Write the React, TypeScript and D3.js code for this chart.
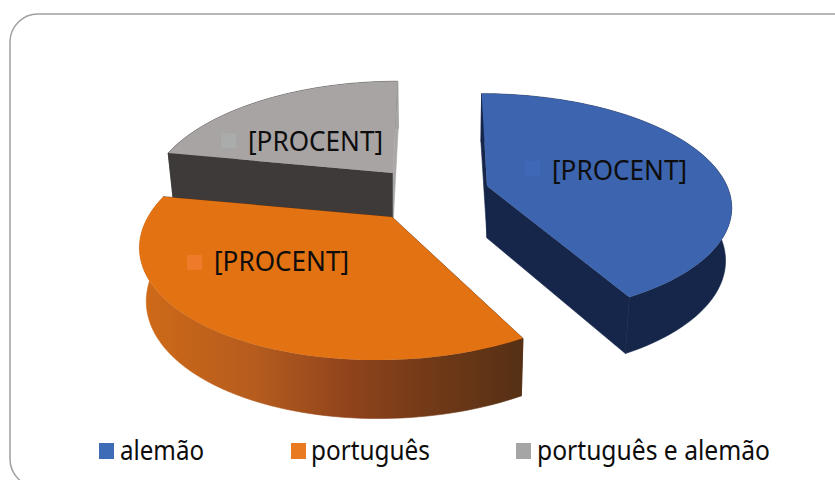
import React from "react";
import * as d3 from "d3";

const categories = ["alemão", "português", "português e alemão"];
const shares = [42, 36, 22];
const dataLabel = "[PROCENT]";
const topColors = ["#3d64ae", "#e37212", "#a7a4a3"];
const outerWallColors = ["#15264a", "url(#orangeWall)", "#3e3a3a"];
const startWallColors = ["#15264a", "#5a3014", "#3e3a3a"];
const endWallColors = ["#15264a", "#5a3014", "#a9a7a6"];
const legendColors = ["#3f6cb6", "#ea7a1f", "#a5a5a5"];
const markerColors = ["#3f69b6", "#ee7a2a", "#aaacac"];
const apexes: [number, number][] = [[487, 186], [392, 217], [393, 173]];
const radiiX = [240, 244, 239];
const radiiY = [108, 113, 111];
const perspective = [0.17, 0.21, 0.21];
const vanishingX = [450, 450, 420];
const drawOrder = [2, 0, 1];
const labelPos: [number, number][] = [[552, 180], [214, 271], [248, 151]];
const markerPos: [number, number][] = [[525, 161], [187, 255], [221, 133]];
const legendX = [99, 291, 516];
const legendTextX = [120, 311, 537];
const legendWidths = [84, 119, 233];

const W = 835, H = 480;
const DEPTH = 52, SHRINK = 0.978;

const project = (i: number, r: number, a: number, low: boolean): [number, number] => {
  const [ax, ay] = apexes[i];
  const vx = vanishingX[i];
  const u = r * Math.sin(a), v = r * Math.cos(a);
  const w = 1 + perspective[i] * v;
  const x = vx + (ax - vx + radiiX[i] * u) / w;
  const y = ay - (radiiY[i] * v) / w;
  if (!low) return [x, y];
  return [vx + (x - vx) * (r === 0 ? 1 : SHRINK), y + DEPTH / Math.sqrt(w)];
};

export default function App() {
  const arcs = d3.pie<number>().sort(null).value((d) => d)(shares);
  const line = d3.line();
  return (
    <svg width={W} height={H} viewBox={`0 0 ${W} ${H}`} style={{ position: "absolute", left: 0, top: 0, background: "#fff" }}>
      <defs>
        <linearGradient id="orangeWall" gradientUnits="userSpaceOnUse" x1={140} x2={523} y1={0} y2={0}>
          <stop offset="0" stopColor="#cf6a18" />
          <stop offset="0.3" stopColor="#b55c1e" />
          <stop offset="0.55" stopColor="#8f431b" />
          <stop offset="0.75" stopColor="#733a18" />
          <stop offset="1" stopColor="#553014" />
        </linearGradient>
      </defs>
      <rect x={10} y={14} width={860} height={473} rx={28} ry={28} fill="#fff" stroke="#a0a0a0" strokeWidth={1.5} />
      {drawOrder.map((i) => {
        const s = arcs[i];
        const angles = d3.range(0, 81).map((k) => s.startAngle + ((s.endAngle - s.startAngle) * k) / 80);
        const top = angles.map((a) => project(i, 1, a, false));
        const low = angles.map((a) => project(i, 1, a, true));
        const apexTop = project(i, 0, 0, false);
        const apexLow = project(i, 0, 0, true);
        return (
          <g key={categories[i]}>
            <path d={line([apexTop, top[0], low[0], apexLow]) + "Z"} fill={startWallColors[i]} stroke={startWallColors[i]} strokeWidth={0.6} />
            <path d={line([...top, ...[...low].reverse()]) + "Z"} fill={outerWallColors[i]} stroke={outerWallColors[i]} strokeWidth={0.6} />
            <path d={line([apexTop, top[80], low[80], apexLow]) + "Z"} fill={endWallColors[i]} stroke={endWallColors[i]} strokeWidth={0.6} />
            <path d={line([apexTop, ...top]) + "Z"} fill={topColors[i]} />
          </g>
        );
      })}
      {categories.map((c, i) => (
        <g key={c}>
          <rect x={markerPos[i][0]} y={markerPos[i][1]} width={15} height={15} fill={markerColors[i]} />
          <text x={labelPos[i][0]} y={labelPos[i][1]} fontFamily="'Noto Sans', sans-serif" fontSize={28} fill="#0d0d0d" textLength={135} lengthAdjust="spacingAndGlyphs">{dataLabel}</text>
          <rect x={legendX[i]} y={443} width={15} height={16} fill={legendColors[i]} />
          <text x={legendTextX[i]} y={460} fontFamily="'Noto Sans', sans-serif" fontSize={28} fill="#0d0d0d" textLength={legendWidths[i]} lengthAdjust="spacingAndGlyphs">{c}</text>
        </g>
      ))}
    </svg>
  );
}
